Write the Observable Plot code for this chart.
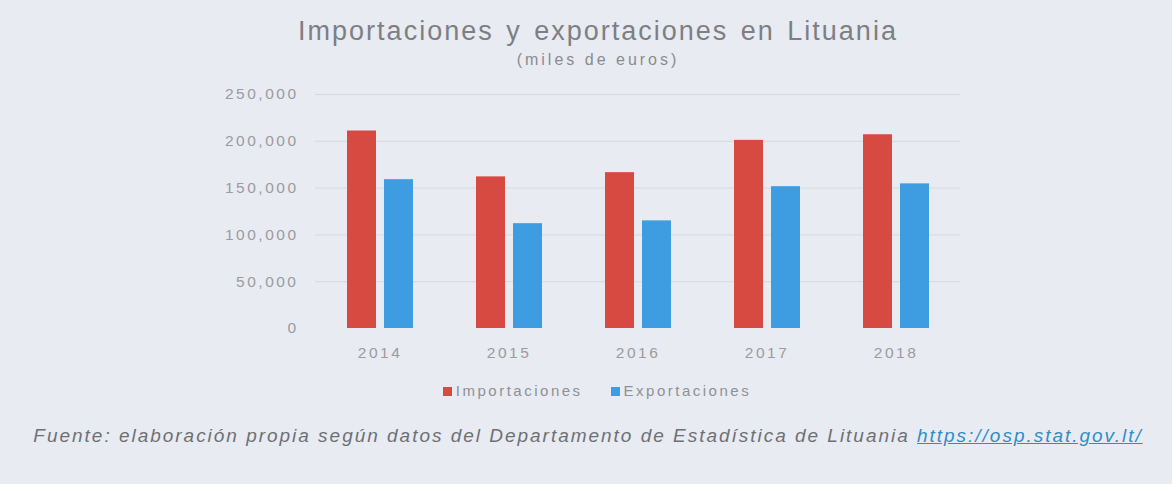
<!DOCTYPE html>
<html>
<head>
<meta charset="utf-8">
<script src="https://cdn.jsdelivr.net/npm/d3@7"></script>
<script src="https://cdn.jsdelivr.net/npm/@observablehq/plot@0.6"></script>
<style>
  html, body { margin: 0; padding: 0; }
  body { width: 1172px; height: 484px; background: #e8ebf1; font-family: "Liberation Sans", Arial, sans-serif; position: relative; overflow: hidden; }
  #title { position: absolute; left: 12px; width: 1172px; top: 14px; line-height: 34px; text-align: center; font-size: 27px; letter-spacing: 2px; word-spacing: 3px; color: #7d7f84; }
  #subtitle { position: absolute; left: 12px; width: 1172px; top: 50px; line-height: 20px; text-align: center; font-size: 16px; letter-spacing: 3px; color: #8a8c90; }
  #chart { position: absolute; left: 0; top: 70px; }
  #legend { position: absolute; left: 11px; width: 1172px; top: 381px; line-height: 20px; text-align: center; font-size: 15px; letter-spacing: 2.5px; color: #8f9196; }
  #legend span.item { margin: 0 14px; }
  #legend span.sw { display: inline-block; width: 9px; height: 9px; margin-right: 4px; vertical-align: 0px; }
  #caption { position: absolute; left: 2px; width: 1172px; top: 424px; line-height: 24px; text-align: center; font-size: 19px; letter-spacing: 1.98px; font-style: italic; color: #6e7075; }
  #caption a { color: #2f8ec9; text-decoration: underline; }
</style>
</head>
<body>
<div id="title">Importaciones y exportaciones en Lituania</div>
<div id="subtitle">(miles de euros)</div>
<div id="chart"></div>
<div id="legend"></div>
<div id="caption">Fuente: elaboración propia según datos del Departamento de Estadística de Lituania <a href="https://osp.stat.gov.lt/">https://osp.stat.gov.lt/</a></div>
<script>
const years = ["2014", "2015", "2016", "2017", "2018"];
const series = ["Importaciones", "Exportaciones"];
const importaciones = [211000, 162000, 166500, 201000, 207000];
const exportaciones = [159000, 112000, 115000, 151500, 154500];
const yTicks = [0, 50000, 100000, 150000, 200000, 250000];
const colors = ["#d74a41", "#3d9de0"];

const data = [];
years.forEach((yr, i) => {
  data.push({year: yr, series: series[0], value: importaciones[i]});
  data.push({year: yr, series: series[1], value: exportaciones[i]});
});

const chart = Plot.plot({
  width: 1172,
  height: 298,
  marginTop: 24,
  marginBottom: 40,
  marginLeft: 314,
  marginRight: 212,
  style: {background: "transparent", fontFamily: "'Liberation Sans', Arial, sans-serif", fontSize: "15.5px", color: "#9a9ca1", letterSpacing: "2.5px"},
  fx: {domain: years, padding: 0, label: null, tickSize: 0, tickPadding: 18},
  x: {domain: series, axis: null, paddingInner: 0.22, paddingOuter: 0.85},
  y: {domain: [0, 250000], ticks: yTicks, tickFormat: d3.format(","), tickSize: 0, tickPadding: 17, label: null},
  color: {domain: series, range: colors},
  marks: [
    Plot.ruleY(yTicks.slice(1), {stroke: "#d6d9e0", strokeWidth: 1}),
    Plot.barY(data, {fx: "year", x: "series", y: "value", fill: "series"})
  ]
});
document.getElementById("chart").appendChild(chart);

const legend = document.getElementById("legend");
series.forEach((s, i) => {
  const item = document.createElement("span");
  item.className = "item";
  const sw = document.createElement("span");
  sw.className = "sw";
  sw.style.background = colors[i];
  item.appendChild(sw);
  item.appendChild(document.createTextNode(s));
  legend.appendChild(item);
});
</script>
</body>
</html>
